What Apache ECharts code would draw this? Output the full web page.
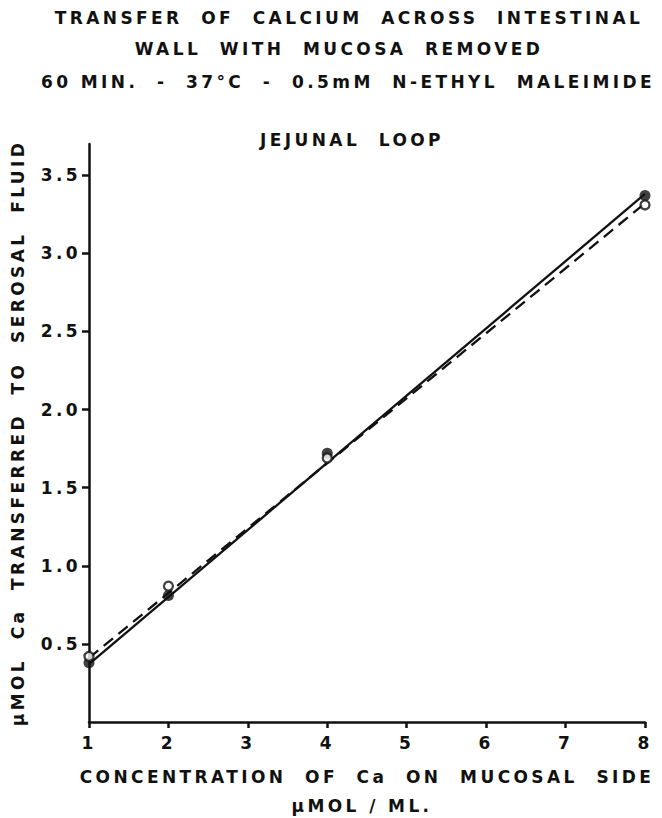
<!DOCTYPE html>
<html><head><meta charset="utf-8">
<script src="https://cdn.jsdelivr.net/npm/echarts@6/dist/echarts.min.js"></script>
<style>
html,body{margin:0;padding:0;background:#fff}
#c{width:662px;height:818px}
#c text{letter-spacing:3.4px}
</style>
</head><body><div id="c"></div>
<script>
const titleLines = [
  'TRANSFER  OF  CALCIUM  ACROSS  INTESTINAL',
  'WALL  WITH  MUCOSA  REMOVED',
  '60 MIN.  -  37°C  -  0.5mM  N-ETHYL  MALEIMIDE'
];
const subTitle = 'JEJUNAL  LOOP';
const xName = 'CONCENTRATION  OF  Ca  ON  MUCOSAL  SIDE';
const xUnit = 'μMOL / ML.';
const yName = 'μMOL  Ca  TRANSFERRED  TO  SEROSAL  FLUID';
const xTicks = [1, 2, 3, 4, 5, 6, 7, 8];
const yTicks = [0.5, 1.0, 1.5, 2.0, 2.5, 3.0, 3.5];
const concentration = [1, 2, 4, 8];
const solidPoints = [0.38, 0.81, 1.72, 3.37];
const openPoints = [0.42, 0.87, 1.69, 3.31];
const lineEnds = [1, 8];
const solidLine = [0.37, 3.38];
const dashedLine = [0.41, 3.32];

const ink = '#111';
const font = 'DejaVu Sans';
const chart = echarts.init(document.getElementById('c'), null, {renderer: 'svg'});
const pair = (xs, ys) => xs.map((x, i) => [x, ys[i]]);
const txt = (t, x, y, size) => ({
  type: 'text', x: x, y: y,
  style: {text: t, fill: ink, font: 'bold ' + size + 'px "' + font + '"', textAlign: 'center', textVerticalAlign: 'middle'}
});

chart.setOption({
  animation: false,
  backgroundColor: '#fff',
  grid: {left: 89, right: 17, top: 144, bottom: 96},
  graphic: [
    txt(titleLines[0], 349, 18, 17),
    txt(titleLines[1], 339, 49, 17),
    txt(titleLines[2], 348, 82, 17),
    txt(subTitle, 352, 140, 17),
    txt(xUnit, 362, 806, 17)
  ],
  xAxis: {
    type: 'value', min: 1, max: 8, interval: 1,
    name: xName, nameLocation: 'middle', nameGap: 46,
    nameTextStyle: {color: ink, fontFamily: font, fontWeight: 'bold', fontSize: 17},
    axisLine: {show: true, onZero: false, lineStyle: {color: ink, width: 2.5}},
    axisTick: {show: true, length: 6, lineStyle: {color: ink, width: 2.5}, customValues: xTicks},
    axisLabel: {color: ink, fontFamily: font, fontWeight: 'bold', fontSize: 17, margin: 12, customValues: xTicks},
    splitLine: {show: false}
  },
  yAxis: {
    type: 'value', min: 0, max: 3.7,
    name: yName, nameLocation: 'middle', nameGap: 63,
    nameTextStyle: {color: ink, fontFamily: font, fontWeight: 'bold', fontSize: 17},
    axisLine: {show: true, onZero: false, lineStyle: {color: ink, width: 2.5}},
    axisTick: {show: true, length: 7, lineStyle: {color: ink, width: 2.5}, customValues: yTicks},
    axisLabel: {color: ink, fontFamily: font, fontWeight: 'bold', fontSize: 17, margin: 8,
      customValues: yTicks, formatter: v => v.toFixed(1)},
    splitLine: {show: false}
  },
  series: [
    {type: 'line', data: pair(lineEnds, solidLine), symbol: 'none', lineStyle: {color: ink, width: 2.3}, z: 2},
    {type: 'line', data: pair(lineEnds, dashedLine), symbol: 'none', lineStyle: {color: ink, width: 2.3, type: [12, 7]}, z: 2},
    {type: 'scatter', data: pair(concentration, solidPoints), symbol: 'circle', symbolSize: 11,
      itemStyle: {color: ink}, z: 3},
    {type: 'scatter', data: pair(concentration, openPoints), symbol: 'circle', symbolSize: 9,
      itemStyle: {color: '#fff', borderColor: ink, borderWidth: 2.3}, z: 4}
  ]
});
</script></body></html>
